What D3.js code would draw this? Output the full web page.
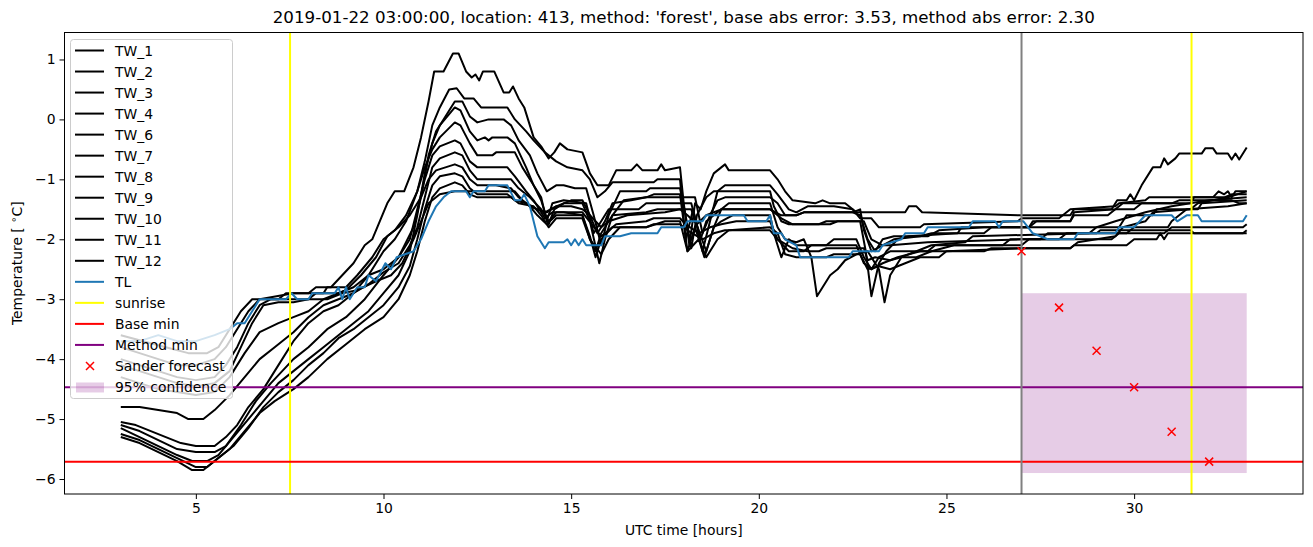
<!DOCTYPE html>
<html>
<head>
<meta charset="utf-8">
<script src="https://cdn.jsdelivr.net/npm/d3@7"></script>
<style>
  body { margin: 0; background: #fff; }
  svg { font-family: "DejaVu Sans", sans-serif; }
</style>
</head>
<body>
<svg id="chart" width="1313" height="547"></svg>
<script>
// water temperature sensors, [hour, degC]
var tw1 = [[3,-3.6],[3.6,-3.7],[4.2,-3.8],[4.8,-3.9],[5.3,-3.9],[5.6,-3.8],[5.9,-3.5],[6.2,-3.2],[6.5,-3.0],[7.2,-3.0],[7.4,-2.9],[8.0,-2.9],[8.2,-2.8],[8.6,-2.8],[8.9,-2.6],[9.2,-2.4],[9.5,-2.1],[9.7,-2.0],[9.9,-1.7],[10.1,-1.4],[10.3,-1.2],[10.55,-1.2],[10.8,-0.8],[11.0,-0.3],[11.2,0.3],[11.35,0.8],[11.6,0.8],[11.85,1.1],[12.0,1.1],[12.2,0.8],[12.35,0.7],[12.45,0.75],[12.55,0.65],[12.65,0.8],[12.95,0.8],[13.2,0.45],[13.35,0.45],[13.45,0.55],[13.6,0.35],[13.75,0.2],[14.0,-0.3],[14.2,-0.45],[14.4,-0.65],[14.55,-0.55],[14.7,-0.4],[14.9,-0.5],[15.3,-0.55],[15.5,-0.9],[15.7,-1.1],[16.0,-1.1],[16.2,-0.85],[16.6,-0.85],[16.75,-0.75],[16.9,-0.85],[17.3,-0.85],[17.4,-0.75],[17.5,-0.85],[17.9,-0.8],[18.0,-1.4],[18.15,-2.1],[18.3,-1.4],[18.45,-1.5],[18.6,-1.2],[18.8,-0.9],[19.0,-0.8],[19.1,-0.75],[19.2,-0.85],[20.3,-0.85],[20.5,-1.0],[20.7,-1.2],[20.9,-1.35],[21.5,-1.4],[21.7,-1.35],[21.9,-1.4],[22.3,-1.4],[22.6,-1.55],[23.9,-1.55],[24.0,-1.45],[24.2,-1.45],[24.35,-1.55],[27.0,-1.6],[28.3,-1.6],[28.4,-1.5],[29.4,-1.5],[29.55,-1.35],[29.8,-1.35],[29.9,-1.25],[30.0,-1.35],[30.2,-1.1],[30.5,-0.8],[30.7,-0.8],[30.8,-0.65],[30.9,-0.75],[31.1,-0.65],[31.2,-0.57],[31.8,-0.57],[31.9,-0.48],[32.1,-0.48],[32.2,-0.57],[32.5,-0.57],[32.6,-0.67],[32.7,-0.57],[32.8,-0.67],[33.0,-0.47]];
var tw2 = [[3,-5.05],[3.4,-5.1],[3.8,-5.2],[4.2,-5.3],[4.6,-5.4],[5.0,-5.45],[5.5,-5.45],[5.8,-5.3],[6.1,-5.1],[6.4,-4.8],[6.8,-4.5],[7.2,-4.1],[7.6,-3.7],[8.0,-3.4],[8.4,-3.2],[8.8,-3.1],[9.2,-2.9],[9.6,-2.6],[10.0,-2.2],[10.3,-2.0],[10.6,-1.7],[10.9,-1.2],[11.1,-0.7],[11.3,-0.1],[11.5,0.2],[11.75,0.5],[11.95,0.52],[12.15,0.35],[12.4,0.35],[12.6,0.2],[13.3,0.2],[13.5,0.0],[13.8,-0.2],[14.0,-0.35],[14.3,-0.55],[14.6,-0.7],[14.9,-0.8],[15.3,-0.85],[15.5,-1.0],[15.7,-1.3],[15.9,-1.2],[16.1,-1.05],[17.2,-1.05],[17.3,-1.0],[17.9,-1.0],[18.05,-2.0],[18.25,-1.5],[18.5,-2.2],[18.7,-1.7],[18.9,-1.2],[19.1,-1.1],[20.3,-1.1],[20.5,-1.25],[20.8,-1.5],[21.0,-1.55],[21.3,-1.45],[22.0,-1.45],[22.5,-1.5],[22.7,-1.65],[23.0,-1.65],[23.2,-1.8],[24.3,-1.8],[24.4,-1.75],[26.9,-1.7],[27.0,-1.65],[28.0,-1.65],[28.3,-1.5],[29.5,-1.45],[29.6,-1.4],[30.3,-1.35],[30.4,-1.3],[32.1,-1.3],[32.25,-1.2],[32.4,-1.25],[32.5,-1.2],[32.6,-1.3],[32.7,-1.2],[33.0,-1.2]];
var tw3 = [[3,-5.1],[3.5,-5.2],[4.0,-5.35],[4.5,-5.5],[5.0,-5.55],[5.5,-5.55],[5.8,-5.45],[6.2,-5.1],[6.6,-4.7],[7.0,-4.4],[7.6,-4.0],[8.0,-3.8],[8.5,-3.5],[9.0,-3.3],[9.5,-3.0],[10.0,-2.6],[10.4,-2.3],[10.8,-1.8],[11.0,-1.3],[11.2,-0.6],[11.4,-0.2],[11.6,0.0],[11.9,0.3],[12.1,0.3],[12.3,0.05],[12.5,-0.05],[12.8,0.0],[13.2,0.0],[13.4,-0.1],[13.6,-0.35],[13.9,-0.6],[14.1,-0.9],[14.35,-1.2],[14.6,-1.1],[14.8,-1.1],[15.1,-1.15],[15.4,-1.15],[15.6,-1.6],[15.8,-2.1],[16.0,-1.6],[16.3,-1.2],[17.0,-1.2],[17.1,-1.15],[17.9,-1.15],[18.05,-1.6],[18.2,-2.15],[18.35,-1.6],[18.6,-1.3],[18.8,-1.2],[20.3,-1.2],[20.4,-1.45],[20.6,-1.7],[20.8,-1.75],[21.6,-1.75],[21.8,-1.7],[22.7,-1.7],[22.85,-2.2],[23.0,-2.95],[23.2,-2.4],[23.4,-2.2],[23.7,-2.0],[24.0,-1.95],[25.3,-1.9],[25.4,-1.8],[27.2,-1.8],[27.3,-1.7],[28.3,-1.7],[28.4,-1.6],[29.3,-1.6],[29.5,-1.5],[30.0,-1.5],[30.2,-1.4],[31.5,-1.4],[31.6,-1.3],[32.4,-1.3],[32.6,-1.25],[33.0,-1.25]];
var tw4 = [[3,-5.15],[3.5,-5.3],[4.0,-5.45],[4.5,-5.6],[4.9,-5.7],[5.3,-5.7],[5.6,-5.6],[6.0,-5.3],[6.4,-5.0],[6.8,-4.7],[7.2,-4.4],[7.6,-4.2],[8.0,-4.0],[8.4,-3.8],[8.8,-3.6],[9.2,-3.4],[9.6,-3.2],[10.0,-2.9],[10.4,-2.6],[10.7,-2.2],[10.9,-1.6],[11.1,-0.9],[11.3,-0.4],[11.5,-0.1],[11.7,0.05],[11.9,0.2],[12.05,0.15],[12.3,-0.2],[12.5,-0.35],[12.7,-0.3],[12.8,-0.35],[12.9,-0.3],[13.3,-0.3],[13.5,-0.4],[13.8,-0.8],[14.0,-1.1],[14.2,-1.35],[14.4,-1.75],[14.55,-1.5],[14.8,-1.4],[15.3,-1.4],[15.5,-1.7],[15.75,-2.4],[15.9,-2.0],[16.1,-1.6],[16.4,-1.35],[17.0,-1.3],[17.2,-1.25],[17.9,-1.25],[18.1,-2.2],[18.3,-1.8],[18.55,-2.3],[18.8,-1.8],[19.0,-1.5],[19.2,-1.4],[20.3,-1.4],[20.5,-1.8],[20.7,-2.0],[21.0,-2.05],[21.2,-2.0],[21.4,-2.3],[21.55,-2.95],[21.7,-2.8],[21.9,-2.6],[22.1,-2.5],[22.3,-2.35],[22.6,-2.25],[22.9,-2.2],[23.2,-2.5],[23.35,-3.05],[23.5,-2.6],[23.8,-2.3],[24.2,-2.2],[24.6,-2.1],[25.5,-2.05],[25.7,-1.95],[28.8,-1.9],[29.0,-1.8],[29.6,-1.8],[29.8,-1.6],[30.5,-1.6],[30.6,-1.5],[31.7,-1.5],[31.8,-1.4],[33.0,-1.35]];
var tw6 = [[3,-3.8],[3.5,-3.9],[4.0,-4.0],[4.5,-4.1],[5.0,-4.1],[5.5,-4.0],[5.8,-3.8],[6.1,-3.5],[6.4,-3.2],[6.7,-3.0],[7.6,-2.9],[8.4,-2.9],[8.5,-2.8],[9.0,-2.8],[9.3,-2.6],[9.7,-2.3],[10.0,-2.0],[10.3,-1.85],[10.6,-1.6],[10.9,-1.2],[11.1,-0.8],[11.3,-0.5],[11.5,-0.3],[11.9,-0.05],[12.05,-0.1],[12.3,-0.4],[12.5,-0.6],[12.9,-0.6],[13.0,-0.55],[13.5,-0.55],[13.7,-0.8],[14.0,-1.1],[14.2,-1.3],[14.35,-1.7],[14.5,-1.4],[14.8,-1.35],[15.4,-1.4],[15.6,-1.9],[15.8,-1.7],[16.0,-1.5],[16.8,-1.5],[17.0,-1.4],[18.2,-1.4],[18.45,-2.0],[18.6,-1.7],[18.8,-1.6],[19.0,-1.5],[20.3,-1.5],[20.6,-1.6],[21.0,-1.6],[21.2,-1.55],[22.5,-1.55],[22.7,-1.5],[22.8,-1.85],[23.0,-2.2],[23.3,-2.1],[23.5,-2.1],[24.5,-2.05],[27.0,-2.0],[28.0,-2.0],[28.2,-1.9],[29.8,-1.9],[30.0,-1.8],[30.9,-1.8],[31.0,-1.7],[31.4,-1.5],[32.5,-1.45],[33.0,-1.4]];
var tw7 = [[3,-4.3],[3.5,-4.4],[4.0,-4.5],[4.5,-4.55],[5.0,-4.6],[5.5,-4.55],[5.9,-4.3],[6.3,-3.9],[6.7,-3.55],[7.2,-3.4],[7.6,-3.3],[8.0,-3.2],[8.4,-3.0],[8.8,-2.9],[9.2,-2.8],[9.6,-2.6],[10.0,-2.5],[10.4,-2.3],[10.7,-2.0],[10.9,-1.5],[11.1,-1.0],[11.3,-0.6],[11.5,-0.45],[11.9,-0.35],[12.05,-0.4],[12.3,-0.7],[12.5,-0.8],[13.3,-0.8],[13.5,-0.95],[13.8,-1.2],[14.0,-1.35],[14.3,-1.65],[14.5,-1.55],[14.8,-1.55],[15.3,-1.6],[15.5,-2.0],[15.65,-2.2],[15.8,-1.9],[16.1,-1.6],[17.0,-1.55],[17.3,-1.5],[18.2,-1.5],[18.6,-2.2],[18.8,-1.8],[19.0,-1.7],[19.3,-1.6],[20.3,-1.6],[20.4,-1.9],[20.6,-2.3],[20.8,-2.0],[21.0,-2.1],[21.8,-2.1],[22.0,-2.0],[22.6,-2.0],[22.8,-2.3],[23.0,-2.5],[23.2,-2.3],[23.5,-2.2],[24.5,-2.2],[24.7,-2.1],[27.0,-2.1],[27.2,-2.0],[29.4,-2.0],[29.6,-1.9],[30.8,-1.9],[31.0,-1.8],[32.9,-1.8],[33.0,-1.75]];
var tw8 = [[3,-4.8],[3.5,-4.8],[4.0,-4.85],[4.5,-4.9],[4.8,-5.0],[5.2,-5.0],[5.5,-4.85],[5.9,-4.6],[6.3,-4.3],[6.7,-4.0],[7.1,-3.8],[7.6,-3.55],[8.0,-3.3],[8.4,-3.1],[8.8,-3.0],[9.2,-2.9],[9.6,-2.75],[10.0,-2.55],[10.4,-2.4],[10.7,-2.1],[10.9,-1.8],[11.1,-1.3],[11.3,-0.8],[11.5,-0.65],[11.9,-0.55],[12.1,-0.6],[12.3,-0.85],[12.5,-1.0],[13.4,-1.0],[13.6,-1.15],[13.9,-1.3],[14.2,-1.5],[14.4,-1.7],[14.6,-1.55],[15.3,-1.55],[15.55,-1.75],[15.8,-1.95],[16.0,-1.85],[16.2,-1.75],[17.0,-1.7],[17.2,-1.65],[17.9,-1.65],[18.05,-1.75],[18.4,-1.9],[18.7,-1.8],[19.0,-1.75],[19.4,-1.7],[20.3,-1.7],[20.5,-2.0],[20.8,-2.2],[21.2,-2.2],[21.4,-2.1],[22.6,-2.1],[22.8,-2.4],[23.0,-2.5],[23.3,-2.4],[23.7,-2.3],[24.3,-2.2],[26.0,-2.2],[26.2,-2.15],[28.3,-2.15],[28.4,-2.1],[29.8,-2.1],[30.0,-2.0],[30.6,-2.0],[30.7,-1.9],[30.8,-2.0],[30.9,-1.9],[32.9,-1.9],[33.0,-1.85]];
var tw9 = [[3,-4.0],[3.5,-4.1],[4.0,-4.2],[4.5,-4.3],[5.0,-4.35],[5.5,-4.3],[5.8,-4.1],[6.1,-3.8],[6.4,-3.4],[6.7,-3.1],[7.0,-3.0],[8.0,-3.0],[8.2,-2.9],[8.8,-2.9],[9.0,-2.85],[9.4,-2.6],[9.8,-2.3],[10.1,-1.95],[10.4,-1.8],[10.7,-1.6],[11.0,-1.3],[11.2,-1.0],[11.4,-0.85],[11.9,-0.75],[12.1,-0.8],[12.3,-1.0],[12.5,-1.1],[13.0,-1.1],[13.4,-1.15],[13.6,-1.3],[13.9,-1.45],[14.1,-1.6],[14.35,-1.75],[14.6,-1.6],[15.3,-1.6],[15.5,-1.95],[15.65,-2.3],[15.8,-2.0],[16.1,-1.8],[17.0,-1.8],[17.2,-1.75],[17.9,-1.75],[18.1,-1.85],[18.5,-2.0],[18.8,-1.9],[19.1,-1.85],[20.3,-1.85],[20.5,-2.0],[20.9,-2.15],[21.3,-2.2],[21.6,-2.2],[21.8,-2.15],[22.8,-2.15],[22.9,-2.35],[23.1,-2.3],[23.5,-2.35],[23.8,-2.3],[24.2,-2.3],[24.6,-2.2],[25.2,-2.1],[26.5,-2.1],[26.7,-2.0],[27.5,-2.0],[27.7,-1.9],[29.0,-1.9],[29.1,-1.85],[31.5,-1.85],[31.6,-1.9],[33.0,-1.9]];
var tw10 = [[3,-5.25],[3.5,-5.35],[4.0,-5.5],[4.5,-5.65],[5.0,-5.8],[5.3,-5.8],[5.6,-5.65],[6.0,-5.45],[6.4,-5.15],[6.8,-4.8],[7.2,-4.55],[7.6,-4.35],[8.0,-4.1],[8.4,-3.9],[8.8,-3.65],[9.2,-3.5],[9.6,-3.3],[10.0,-3.1],[10.4,-2.8],[10.7,-2.45],[10.9,-2.0],[11.1,-1.5],[11.3,-1.1],[11.5,-0.95],[11.9,-0.9],[12.1,-0.95],[12.3,-1.15],[12.5,-1.25],[13.3,-1.25],[13.5,-1.35],[13.8,-1.4],[14.1,-1.5],[14.35,-1.55],[14.6,-1.45],[15.0,-1.45],[15.3,-1.5],[15.5,-1.6],[15.8,-1.8],[16.0,-1.7],[16.5,-1.6],[17.5,-1.55],[17.9,-1.5],[18.1,-1.6],[18.35,-1.75],[18.6,-1.6],[19.0,-1.5],[20.3,-1.5],[20.6,-1.65],[20.9,-1.75],[21.9,-1.75],[22.1,-1.7],[22.8,-1.7],[23.0,-2.0],[23.3,-2.1],[23.6,-2.0],[24.3,-1.95],[24.6,-1.9],[26.0,-1.9],[26.2,-1.8],[28.6,-1.8],[29.0,-1.8],[29.5,-1.7],[30.3,-1.55],[31.0,-1.45],[32.0,-1.35],[33.0,-1.3]];
var tw11 = [[3,-5.3],[3.5,-5.4],[4.0,-5.55],[4.5,-5.7],[4.9,-5.85],[5.2,-5.85],[5.5,-5.7],[5.9,-5.5],[6.3,-5.2],[6.7,-4.9],[7.1,-4.7],[7.6,-4.5],[8.0,-4.3],[8.5,-4.0],[9.0,-3.75],[9.5,-3.5],[10.0,-3.3],[10.4,-3.0],[10.7,-2.6],[10.9,-2.2],[11.1,-1.7],[11.3,-1.3],[11.5,-1.15],[11.9,-1.05],[12.1,-1.1],[12.3,-1.25],[12.5,-1.3],[13.4,-1.3],[13.6,-1.4],[14.0,-1.45],[14.2,-1.6],[14.4,-1.8],[14.6,-1.65],[15.3,-1.65],[15.5,-2.0],[15.8,-2.25],[16.0,-2.0],[16.3,-1.8],[17.0,-1.8],[17.5,-1.7],[17.9,-1.7],[18.1,-2.2],[18.4,-2.0],[18.6,-2.3],[18.9,-2.0],[19.2,-1.85],[20.3,-1.8],[20.5,-1.9],[20.7,-2.25],[21.0,-2.3],[21.8,-2.3],[22.0,-2.25],[22.7,-2.25],[22.9,-2.5],[23.2,-2.45],[23.5,-2.5],[23.9,-2.4],[24.3,-2.3],[24.8,-2.3],[25.0,-2.2],[27.0,-2.15],[28.3,-2.15],[28.5,-2.05],[29.5,-1.95],[29.7,-1.8],[30.3,-1.7],[30.5,-1.55],[31.5,-1.5],[31.7,-1.4],[32.5,-1.3],[33.0,-1.2]];
var tw12 = [[3,-4.1],[3.5,-4.2],[4.0,-4.3],[4.5,-4.4],[5.0,-4.45],[5.5,-4.4],[5.9,-4.2],[6.2,-3.8],[6.5,-3.4],[6.8,-3.1],[7.2,-3.05],[7.6,-3.05],[8.0,-3.0],[8.5,-3.0],[8.9,-2.9],[9.3,-2.85],[9.8,-2.7],[10.2,-2.6],[10.5,-2.4],[10.8,-2.0],[11.0,-1.7],[11.2,-1.4],[11.5,-1.25],[11.9,-1.2],[13.5,-1.2],[13.7,-1.35],[13.9,-1.45],[14.3,-1.55],[14.6,-1.45],[15.0,-1.35],[15.3,-1.35],[15.5,-1.6],[15.7,-1.9],[15.9,-1.7],[16.1,-1.4],[16.6,-1.35],[17.0,-1.3],[18.3,-1.3],[18.5,-1.9],[18.7,-1.6],[18.9,-1.35],[19.1,-1.3],[20.3,-1.3],[20.5,-1.4],[20.7,-1.6],[21.0,-1.6],[21.2,-1.55],[22.5,-1.55],[22.7,-1.6],[22.9,-2.0],[23.1,-2.2],[23.3,-2.0],[23.6,-1.95],[24.5,-1.95],[24.8,-1.85],[26.0,-1.8],[27.2,-1.8],[27.4,-1.7],[28.3,-1.7],[28.4,-1.55],[29.5,-1.5],[29.7,-1.4],[31.0,-1.4],[31.2,-1.35],[32.6,-1.35],[32.8,-1.4],[33.0,-1.4]];

// air temperature
var tl = [[3,-3.7],[3.5,-3.7],[4.0,-3.6],[4.5,-3.7],[5.0,-3.7],[5.5,-3.6],[5.9,-3.5],[6.1,-3.4],[6.3,-3.4],[6.5,-3.2],[6.7,-3.0],[7.4,-3.0],[7.55,-2.9],[7.7,-3.0],[8.0,-3.0],[8.1,-2.9],[8.7,-2.9],[8.8,-2.8],[8.9,-3.0],[9.0,-2.8],[9.1,-3.0],[9.3,-2.8],[9.5,-2.8],[9.6,-2.6],[9.8,-2.7],[10.05,-2.4],[10.2,-2.5],[10.35,-2.3],[10.8,-2.2],[11.0,-2.0],[11.2,-1.7],[11.4,-1.45],[11.6,-1.3],[11.8,-1.2],[12.2,-1.2],[12.3,-1.3],[12.4,-1.2],[12.7,-1.2],[12.8,-1.1],[13.3,-1.1],[13.5,-1.35],[13.65,-1.35],[13.75,-1.25],[13.9,-1.45],[14.1,-1.95],[14.3,-2.15],[14.4,-2.05],[14.8,-2.05],[14.9,-2.0],[15.0,-2.1],[15.1,-2.0],[15.2,-2.1],[15.3,-2.0],[15.4,-2.1],[15.8,-2.1],[15.9,-1.95],[16.3,-1.95],[16.6,-1.9],[17.3,-1.9],[17.4,-1.8],[18.0,-1.8],[18.1,-1.7],[18.5,-1.7],[18.6,-1.6],[19.6,-1.6],[19.7,-1.7],[20.2,-1.7],[20.3,-1.6],[20.4,-1.9],[20.6,-1.9],[20.7,-2.0],[21.0,-2.1],[21.1,-2.3],[22.4,-2.3],[22.5,-2.2],[23.2,-2.2],[23.3,-2.1],[23.8,-2.0],[23.9,-1.9],[24.4,-1.9],[24.5,-1.8],[25.6,-1.8],[25.7,-1.7],[26.3,-1.7],[26.4,-1.8],[26.5,-1.7],[27.05,-1.7],[27.3,-1.9],[27.7,-2.0],[28.4,-2.0],[28.5,-1.9],[29.5,-1.9],[29.6,-1.8],[30.0,-1.8],[30.3,-1.6],[31.0,-1.6],[31.15,-1.7],[31.4,-1.6],[31.7,-1.6],[31.8,-1.7],[32.9,-1.7],[33.0,-1.6]];

var twNames = ['TW_1', 'TW_2', 'TW_3', 'TW_4', 'TW_6', 'TW_7', 'TW_8', 'TW_9', 'TW_10', 'TW_11', 'TW_12'];
var twSeries = [tw1, tw2, tw3, tw4, tw6, tw7, tw8, tw9, tw10, tw11, tw12];

var sunrise = [7.51, 31.53];
var forecastStart = 27;
var baseMin = -5.71;
var methodMin = -4.47;
var forecastHours = [27, 28, 29, 30, 31, 32];
var forecastValues = [-2.2, -3.14, -3.86, -4.47, -5.21, -5.71];
var confidence = [-5.9, -2.9];
var confidenceHours = [27, 33];

var xTicks = [5, 10, 15, 20, 25, 30];
var yTicks = [-6, -5, -4, -3, -2, -1, 0, 1];

var title = "2019-01-22 03:00:00, location: 413, method: 'forest', base abs error: 3.53, method abs error: 2.30";

// layout
var margin = { top: 32.5, right: 10, bottom: 53, left: 64.5 },
	width = 1313 - margin.left - margin.right,
	height = 547 - margin.top - margin.bottom;

var svg = d3.select('#chart');
var g = svg.append('g')
	.attr('transform', 'translate(' + margin.left + ',' + margin.top + ')');

var x = d3.scaleLinear().domain([1.5, 34.5]).range([0, width]);
var y = d3.scaleLinear().domain([-6.25, 1.45]).range([height, 0]);

g.append('defs').append('clipPath').attr('id', 'clip')
	.append('rect').attr('width', width).attr('height', height);

var plot = g.append('g').attr('clip-path', 'url(#clip)');

// 95% confidence band
plot.append('rect')
	.attr('x', x(confidenceHours[0]))
	.attr('width', x(confidenceHours[1]) - x(confidenceHours[0]))
	.attr('y', y(confidence[1]))
	.attr('height', y(confidence[0]) - y(confidence[1]))
	.attr('fill', 'purple')
	.attr('fill-opacity', 0.2);

var line = d3.line()
	.x(function (d) { return x(d[0]); })
	.y(function (d) { return y(d[1]); });

plot.selectAll('path.tw')
	.data(twSeries)
	.enter().append('path')
	.attr('class', 'tw')
	.attr('d', line)
	.attr('fill', 'none')
	.attr('stroke', 'black')
	.attr('stroke-width', 2)
	.attr('stroke-linejoin', 'round');

plot.append('path')
	.datum(tl)
	.attr('d', line)
	.attr('fill', 'none')
	.attr('stroke', '#1f77b4')
	.attr('stroke-width', 2)
	.attr('stroke-linejoin', 'round');

plot.selectAll('line.sunrise')
	.data(sunrise)
	.enter().append('line')
	.attr('class', 'sunrise')
	.attr('x1', function (d) { return x(d); })
	.attr('x2', function (d) { return x(d); })
	.attr('y1', 0).attr('y2', height)
	.attr('stroke', 'yellow')
	.attr('stroke-width', 2);

plot.append('line')
	.attr('x1', 0).attr('x2', width)
	.attr('y1', y(baseMin)).attr('y2', y(baseMin))
	.attr('stroke', 'red').attr('stroke-width', 2);

plot.append('line')
	.attr('x1', 0).attr('x2', width)
	.attr('y1', y(methodMin)).attr('y2', y(methodMin))
	.attr('stroke', 'purple').attr('stroke-width', 2);

plot.append('line')
	.attr('x1', x(forecastStart)).attr('x2', x(forecastStart))
	.attr('y1', 0).attr('y2', height)
	.attr('stroke', 'gray').attr('stroke-width', 2);

// sander forecast markers
function cross(sel, s) {
	sel.append('path')
		.attr('d', 'M' + (-s) + ',' + (-s) + 'L' + s + ',' + s + 'M' + (-s) + ',' + s + 'L' + s + ',' + (-s))
		.attr('stroke', 'red')
		.attr('stroke-width', 1.5)
		.attr('fill', 'none');
}

plot.selectAll('g.fc')
	.data(forecastHours)
	.enter().append('g')
	.attr('class', 'fc')
	.attr('transform', function (d, i) { return 'translate(' + x(d) + ',' + y(forecastValues[i]) + ')'; })
	.each(function () { cross(d3.select(this), 4); });

// axes
var xAxis = g.append('g')
	.attr('transform', 'translate(0,' + height + ')')
	.call(d3.axisBottom(x).tickValues(xTicks).tickSize(5).tickPadding(4));
var yAxis = g.append('g')
	.call(d3.axisLeft(y).tickValues(yTicks).tickSize(5).tickPadding(4));

[xAxis, yAxis].forEach(function (a) {
	a.select('.domain').remove();
	a.selectAll('text').attr('font-size', 13.9).attr('font-family', 'DejaVu Sans').attr('fill', 'black');
	a.selectAll('line').attr('stroke', 'black').attr('stroke-width', 1);
});

g.append('rect')
	.attr('width', width).attr('height', height)
	.attr('fill', 'none').attr('stroke', 'black').attr('stroke-width', 1);

// labels
svg.append('text')
	.attr('x', margin.left + width / 2).attr('y', 23)
	.attr('text-anchor', 'middle')
	.attr('font-size', 16.7)
	.text(title);

svg.append('text')
	.attr('x', margin.left + width / 2).attr('y', 535)
	.attr('text-anchor', 'middle')
	.attr('font-size', 13.9)
	.text('UTC time [hours]');

var yl = svg.append('text')
	.attr('transform', 'translate(22,' + (margin.top + height / 2) + ') rotate(-90)')
	.attr('text-anchor', 'middle')
	.attr('font-size', 13.9);
yl.append('tspan').text('Temperature [ ');
yl.append('tspan').attr('font-size', 10).attr('dy', -5).text('∘');
yl.append('tspan').attr('dy', 5).text('C]');

// legend
var legendItems = twNames.map(function (n) { return { name: n, type: 'line', color: 'black' }; })
	.concat([
		{ name: 'TL', type: 'line', color: '#1f77b4' },
		{ name: 'sunrise', type: 'line', color: 'yellow' },
		{ name: 'Base min', type: 'line', color: 'red' },
		{ name: 'Method min', type: 'line', color: 'purple' },
		{ name: 'Sander forecast', type: 'marker', color: 'red' },
		{ name: '95% confidence', type: 'patch', color: 'purple' }
	]);

var legend = svg.append('g');
legend.append('rect')
	.attr('x', 70.5).attr('y', 39.5).attr('width', 162).attr('height', 359).attr('rx', 3)
	.attr('fill', 'white').attr('fill-opacity', 0.8)
	.attr('stroke', '#cccccc').attr('stroke-width', 1);

var entry = legend.selectAll('g.entry')
	.data(legendItems)
	.enter().append('g')
	.attr('class', 'entry')
	.attr('transform', function (d, i) { return 'translate(0,' + (50.5 + i * 21.03) + ')'; });

entry.each(function (d) {
	var e = d3.select(this);
	if (d.type === 'line') {
		e.append('line').attr('x1', 75).attr('x2', 104).attr('y1', 0).attr('y2', 0)
			.attr('stroke', d.color).attr('stroke-width', 2);
	} else if (d.type === 'marker') {
		var m = e.append('g').attr('transform', 'translate(90,0)');
		cross(m, 4);
	} else {
		e.append('rect').attr('x', 76).attr('y', -4.5).attr('width', 28).attr('height', 10)
			.attr('fill', d.color).attr('fill-opacity', 0.2);
	}
	e.append('text').attr('x', 115).attr('y', 5).attr('font-size', 13.9).text(d.name);
});
</script>
</body>
</html>
